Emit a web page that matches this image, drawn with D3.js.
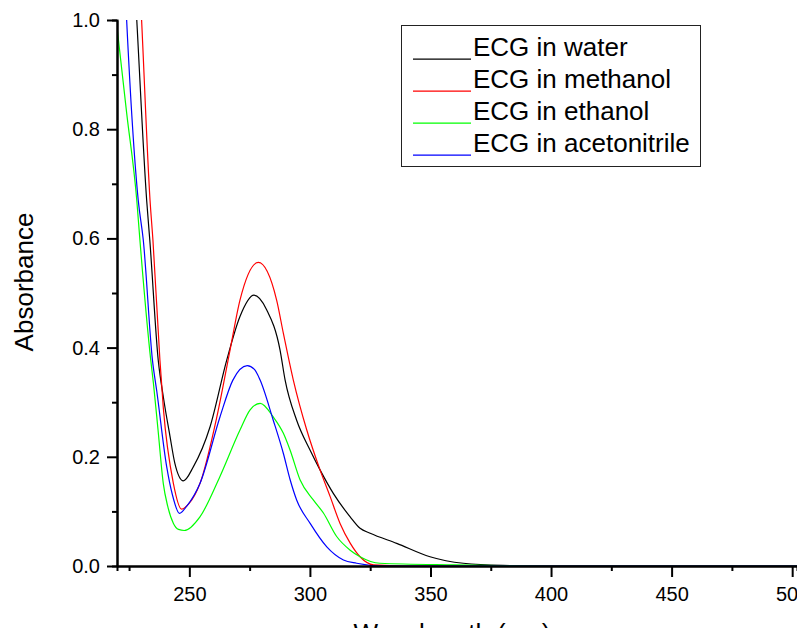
<!DOCTYPE html>
<html>
<head>
<meta charset="utf-8">
<script src="https://cdn.jsdelivr.net/npm/d3@7"></script>
<style>
  body { margin: 0; background: #fff; }
  svg { display: block; font-family: "Liberation Sans", Arial, sans-serif; }
</style>
</head>
<body>
<svg width="797" height="628"></svg>
<script>
// absorbance spectra: [wavelength nm, absorbance]
const water = [
  [226, 1.18], [228.2, 1.0], [232.3, 0.67], [233.6, 0.597], [237.1, 0.377], [239.2, 0.31],
  [242, 0.237], [244, 0.188], [247.5, 0.156], [251.7, 0.182], [258.6, 0.255], [265.5, 0.377],
  [271, 0.457], [276.8, 0.496], [282.1, 0.469], [287.6, 0.396], [289.7, 0.341], [294.5, 0.267],
  [300.1, 0.212], [304.2, 0.176], [309.7, 0.133], [316.7, 0.09], [320.8, 0.069], [325, 0.06],
  [336, 0.0415], [349.8, 0.017], [363.6, 0.005], [380, 0.001], [400, 0], [502, 0],
];
const methanol = [
  [228, 1.2], [230.2, 1.0], [233.7, 0.67], [234.9, 0.597], [237.8, 0.377], [239.2, 0.29],
  [243.4, 0.151], [246.8, 0.104], [250, 0.115], [254.4, 0.151], [261.4, 0.273], [266.9, 0.396],
  [271, 0.487], [278.6, 0.556], [286.2, 0.487], [289, 0.426], [293.1, 0.341], [298.7, 0.249],
  [304.2, 0.176], [308.4, 0.127], [312.5, 0.078], [316.7, 0.042], [320.8, 0.017], [326.4, 0.002],
  [340, 0], [502, 0],
];
const ethanol = [
  [220, 0.987], [224, 0.83], [228.2, 0.67], [229.5, 0.597], [234, 0.377], [235.1, 0.335],
  [237, 0.25], [239.2, 0.151], [241, 0.11], [243.4, 0.078], [245.5, 0.067], [247.9, 0.065],
  [254.4, 0.09], [262.7, 0.164], [271, 0.249], [275.2, 0.286], [279.4, 0.298], [284.8, 0.273],
  [289, 0.243], [291.8, 0.212], [295.9, 0.158], [301.4, 0.121], [305.6, 0.097], [311.1, 0.054],
  [316.7, 0.029], [320.8, 0.017], [329, 0.005], [360, 0.002], [400, 0], [502, 0],
];
const acetonitrile = [
  [222, 1.2], [224, 1.0], [228.8, 0.67], [230.9, 0.597], [234.7, 0.377], [236.5, 0.32],
  [240.6, 0.182], [243, 0.13], [245.9, 0.0965], [249, 0.11], [254.4, 0.151], [262.7, 0.273],
  [268, 0.34], [274, 0.367], [277, 0.36], [279.3, 0.341], [284.8, 0.267], [289, 0.206],
  [291.8, 0.158], [294.5, 0.121], [300.1, 0.078], [307, 0.035], [313.9, 0.011], [319.4, 0.005],
  [330, 0], [502, 0],
];

const seriesNames = ['ECG in water', 'ECG in methanol', 'ECG in ethanol', 'ECG in acetonitrile'];
const seriesColors = ['#000000', '#ff0000', '#00ff00', '#0000ff'];
const seriesData = [water, methanol, ethanol, acetonitrile];

const xMajor = [250, 300, 350, 400, 450, 500];
const xMinor = [225, 275, 325, 375, 425, 475];
const yMajor = [0, 0.2, 0.4, 0.6, 0.8, 1.0];
const yMinor = [0.1, 0.3, 0.5, 0.7, 0.9];

const svg = d3.select('svg');
const x = d3.scaleLinear().domain([220, 502]).range([117, 797]);
const y = d3.scaleLinear().domain([0, 1]).range([566, 20]);

svg.append('clipPath').attr('id', 'plot')
  .append('rect').attr('x', 117).attr('y', 20).attr('width', 680).attr('height', 546);

const line = d3.line()
  .x(d => x(d[0]))
  .y(d => y(d[1]))
  .curve(d3.curveMonotoneX);

svg.append('g')
  .attr('clip-path', 'url(#plot)')
  .selectAll('path')
  .data(seriesData)
  .enter()
  .append('path')
  .attr('d', line)
  .style('fill', 'none')
  .style('stroke', (d, i) => seriesColors[i])
  .style('stroke-width', '1.2px');

// minor ticks first, then major axes on top
svg.append('g')
  .attr('transform', 'translate(0,566)')
  .call(d3.axisBottom(x).tickValues(xMinor).tickSize(5).tickFormat(''));
svg.append('g')
  .attr('transform', 'translate(117,0)')
  .call(d3.axisLeft(y).tickValues(yMinor).tickSize(5).tickFormat(''));

const xAxis = svg.append('g')
  .attr('transform', 'translate(0,566)')
  .call(d3.axisBottom(x).tickValues(xMajor).tickSize(11).tickSizeOuter(0).tickPadding(10));
const yAxis = svg.append('g')
  .attr('transform', 'translate(117,0)')
  .call(d3.axisLeft(y).tickValues(yMajor).tickSize(10).tickSizeOuter(0).tickPadding(7)
    .tickFormat(d3.format('.1f')));

svg.selectAll('.domain, .tick line')
  .style('stroke', '#000')
  .style('stroke-width', '2px');
xAxis.selectAll('text').style('font-size', '20px').style('font-family', '"Liberation Sans", Arial, sans-serif');
yAxis.selectAll('text').style('font-size', '20px').style('font-family', '"Liberation Sans", Arial, sans-serif');

svg.append('text')
  .attr('transform', 'translate(33,282) rotate(-90)')
  .style('text-anchor', 'middle')
  .style('font-size', '26px')
  .text('Absorbance');

svg.append('text')
  .attr('x', 452)
  .attr('y', 642)
  .style('text-anchor', 'middle')
  .style('font-size', '26px')
  .text('Wavelength (nm)');

// legend
const legend = svg.append('g');
legend.append('rect')
  .attr('x', 401.5).attr('y', 25.5)
  .attr('width', 299).attr('height', 141)
  .style('fill', '#fff')
  .style('stroke', '#222')
  .style('stroke-width', '1px');

const rows = legend.selectAll('g.row')
  .data(seriesNames)
  .enter()
  .append('g')
  .attr('class', 'row')
  .attr('transform', (d, i) => `translate(0,${55.7 + i * 32})`);

rows.append('line')
  .attr('x1', 413).attr('x2', 471)
  .attr('y1', 3.5).attr('y2', 3.5)
  .style('stroke', (d, i) => seriesColors[i])
  .style('stroke-width', '1.2px');

rows.append('text')
  .attr('x', 473)
  .style('font-size', '26px')
  .text(d => d);
</script>
</body>
</html>
